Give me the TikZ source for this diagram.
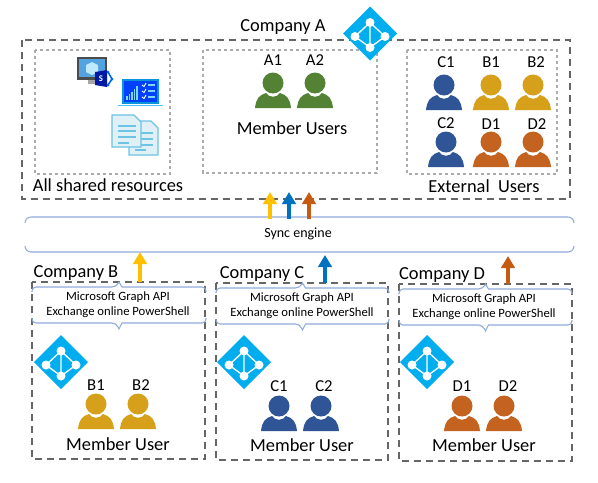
\documentclass[tikz,border=0pt]{standalone}
\usepackage[]{fontspec}
\setmainfont{Carlito}
\usepackage[]{xcolor}
\usetikzlibrary{arrows.meta}
\definecolor{usergreen}{HTML}{548235}
\definecolor{userblue}{HTML}{2F5597}
\definecolor{usergold}{HTML}{D6A01B}
\definecolor{userrust}{HTML}{C46220}
\definecolor{azure}{HTML}{00AEEF}
\definecolor{syncline}{HTML}{8FAADC}
\definecolor{dashgrey}{HTML}{666666}
\definecolor{softgrey}{HTML}{ABABAB}
\definecolor{iconpale}{HTML}{DFF0F7}
\definecolor{iconedge}{HTML}{6CC3E4}
\definecolor{arrowgold}{HTML}{FFC000}
\definecolor{arrowblue}{HTML}{0070C0}
\definecolor{arrowrust}{HTML}{C55A11}
\tikzset{outerbox/.style = {draw=dashgrey, line width = 0.9pt, dash pattern = on 5.5pt off 3.5pt}}
\tikzset{innerbox/.style = {draw=softgrey, line width = 0.8pt, dash pattern = on 2.5pt off 2pt}}
\tikzset{bigtext/.style = {inner sep = 0, font = \fontsize{13.8}{16}\selectfont}}
\tikzset{usertext/.style = {inner sep = 0, font = \fontsize{12.5}{14}\selectfont}}
\tikzset{smalltext/.style = {inner sep = 0, align = center, font = \fontsize{9.5}{11}\selectfont}}
\tikzset{synctext/.style = {inner sep = 0, font = \fontsize{10.5}{12}\selectfont}}
\tikzset{syncarrow/.style = {line width = 3.6pt, -{Triangle[width = 10pt, length = 9pt]}}}
\tikzset{syncedge/.style = {syncline, line width = 0.8pt}}
\tikzset{docpage/.style = {fill=iconpale, draw=iconedge, line width = 0.8pt}}
\tikzset{docline/.style = {draw=iconedge, line width = 0.8pt}}
\tikzset{pics/usericon/.style = {code = {
            \fill [#1] (0,-25) circle [radius=10.5];
            \fill [#1] (-18,0) .. controls (-17,-9) and (-14,-13) .. (-7,-15) .. controls (-4,-10) and (4,-10) .. (7,-15) .. controls (14,-13) and (17,-9) .. (18,0) -- cycle;
        }}}
\tikzset{pics/tenanticon/.style = {code = {
            \fill [azure] (0,-27) -- (27,0) -- (0,27) -- (-27,0) -- cycle;
            \draw [white, line width = 1pt] (0,-11) -- (-15,3) -- (0,14) -- (15,3) -- cycle (0,-11) -- (0,14);
            \fill [white] (0,-11) circle [radius=4.5] (-15,3) circle [radius=4.5] (15,3) circle [radius=4.5] (0,14) circle [radius=4.5];
        }}}
\newcommand{\bracepair}[4]{% left, top, right, bottom
    \draw [syncedge, rounded corners = 3pt] (#1,#2+5) -- (#1,#2) -- ({(#1+#3)/2-3},#2) [sharp corners] -- ({(#1+#3)/2},#2-5) -- ({(#1+#3)/2+3},#2) [rounded corners = 3pt] -- (#3,#2) -- (#3,#2+5);
    \draw [syncedge, rounded corners = 3pt] (#1,#4-5) -- (#1,#4) -- ({(#1+#3)/2-3},#4) [sharp corners] -- ({(#1+#3)/2},#4+6) -- ({(#1+#3)/2+3},#4) [rounded corners = 3pt] -- (#3,#4) -- (#3,#4-5);
}

\begin{document}
\begin{tikzpicture}[x=0.75pt, y=-0.75pt]
    \useasboundingbox [fill=white] (0,0) rectangle (598,482);
    % company A
    \draw [outerbox] (22,40) rectangle (570,199);
    \draw [innerbox] (35,50) rectangle (170,174);
    \draw [innerbox] (203,50) rectangle (377,173);
    \draw [innerbox] (407,50) rectangle (557,174);
    \node [bigtext] (companya) at (283,27) {Company A};
    \pic at (370,33.5) {tenanticon};
    \node [bigtext] (shared) at (108,185) {All shared resources};
    \node [bigtext] (memberusers) at (292,128) {Member Users};
    \node [bigtext] (externalusers) at (484,186) {External\ \ Users};
    % monitor
    \fill [black!70] (77,57) rectangle (107,80);
    \fill [cyan!70!blue!70] (79,59) rectangle (105,77);
    \fill [black!35] (88,80) rectangle (96,84);
    \fill [white!75!cyan] (92,62) -- (98,65) -- (98,72) -- (92,75) -- (86,72) -- (86,65) -- cycle;
    \draw [blue!60!cyan, line width = 1.2pt] (108,72) -- (112,79) -- (108,85);
    \fill [blue!60!cyan] (108,72) circle [radius=1.5] (112,79) circle [radius=1.5] (108,85) circle [radius=1.5];
    \fill [blue!60!black!90!cyan] (95,72) -- (107,70) -- (107,87) -- (95,85) -- cycle;
    \node [inner sep = 0, white, font = \fontsize{6.5}{7}\bfseries\selectfont] (spletter) at (101,79) {S};
    % laptop
    \fill [cyan!80!blue] (122,79) rectangle (159,104);
    \fill [blue!75!cyan] (124,81) rectangle (157,102);
    \draw [cyan!70, line width = 1.2pt] (118,105.5) -- (163,105.5);
    \foreach \i/\h in {0/4,1/6,2/8,3/11,4/14} {
        \fill [cyan!50] ({126+\i*2.6},100) rectangle ({127.6+\i*2.6},100-\h);
    }
    \foreach \yy in {85,91,97} {
        \draw [white, line width = 0.7pt] (142,\yy) -- (144,\yy+1.5) -- (146,\yy-2);
        \draw [cyan!50, line width = 0.8pt] (148,\yy) -- (155,\yy);
    }
    % documents
    \draw [docpage] (129,121) -- (151,121) -- (158,128) -- (158,155) -- (129,155) -- cycle;
    \foreach \yy in {133,139,145} {\draw [docline] (135,\yy) -- (153,\yy);}
    \draw [docline] (135,150) -- (146,150);
    \draw [docpage] (112,115) -- (134,115) -- (141,122) -- (141,147) -- (112,147) -- cycle;
    \foreach \yy in {126,131,137} {\draw [docline] (118,\yy) -- (136,\yy);}
    \draw [docline] (118,143) -- (129,143);
    % users in company A
    \pic at (273,108) {usericon=usergreen};
    \pic at (315,108) {usericon=usergreen};
    \node [usertext] (labela1) at (273,60) {A1};
    \node [usertext] (labela2) at (315,60) {A2};
    \pic at (444,110) {usericon=userblue};
    \pic at (491,110) {usericon=usergold};
    \pic at (533,110) {usericon=usergold};
    \pic at (446,167) {usericon=userblue};
    \pic at (491,167) {usericon=userrust};
    \pic at (533,167) {usericon=userrust};
    \node [usertext] (labelc1) at (446,62) {C1};
    \node [usertext] (labelb1) at (491,62) {B1};
    \node [usertext] (labelb2) at (536,62) {B2};
    \node [usertext] (labelc2) at (446,123) {C2};
    \node [usertext] (labeld1) at (491,124) {D1};
    \node [usertext] (labeld2) at (537,124) {D2};
    % sync engine
    \draw [syncedge, rounded corners = 4.5pt] (25,223) -- (25,217) -- (574,217) -- (574,223);
    \draw [syncedge, rounded corners = 4.5pt] (25,246) -- (25,252) -- (574,252) -- (574,246);
    \node [synctext] (sync) at (298,234) {Sync engine};
    % company B
    \draw [outerbox] (32,282) rectangle (205,459);
    \bracepair{32}{287}{206}{323}
    \node [bigtext] (companyb) at (76,273) {Company B};
    \node [smalltext] (apib) at (118,305) {Microsoft Graph API\\Exchange online PowerShell};
    \pic at (61,362) {tenanticon};
    \pic at (96,429) {usericon=usergold};
    \pic at (138,429) {usericon=usergold};
    \node [usertext] (labelb3) at (96,385) {B1};
    \node [usertext] (labelb4) at (141,385) {B2};
    \node [bigtext] (memberb) at (118,444) {Member User};
    % company C
    \draw [outerbox] (216,283) rectangle (388,460);
    \bracepair{216}{288}{389}{324}
    \node [bigtext] (companyc) at (262,274) {Company C};
    \node [smalltext] (apic) at (302,306) {Microsoft Graph API\\Exchange online PowerShell};
    \pic at (244,362) {tenanticon};
    \pic at (279,431) {usericon=userblue};
    \pic at (321,431) {usericon=userblue};
    \node [usertext] (labelc3) at (279,386) {C1};
    \node [usertext] (labelc4) at (324,386) {C2};
    \node [bigtext] (memberc) at (302,445) {Member User};
    % company D
    \draw [outerbox] (399,284) rectangle (572,461);
    \bracepair{399}{289}{572}{325}
    \node [bigtext] (companyd) at (442,275) {Company D};
    \node [smalltext] (apid) at (484,307) {Microsoft Graph API\\Exchange online PowerShell};
    \pic at (427,362) {tenanticon};
    \pic at (462,431) {usericon=userrust};
    \pic at (504,431) {usericon=userrust};
    \node [usertext] (labeld3) at (462,386) {D1};
    \node [usertext] (labeld4) at (508,386) {D2};
    \node [bigtext] (memberd) at (484,445) {Member User};
    % arrows
    \coordinate (topgoldstart) at (270,219);
    \coordinate (topgoldend) at (270,192);
    \coordinate (topbluestart) at (289,219);
    \coordinate (topblueend) at (289,192);
    \coordinate (toprustart) at (309,219);
    \coordinate (toprustend) at (309,192);
    \coordinate (bstart) at (140,282);
    \coordinate (bend) at (140,252);
    \coordinate (cstart) at (325,283);
    \coordinate (cend) at (325,255);
    \coordinate (dstart) at (508,284);
    \coordinate (dend) at (508,256);
    \draw [syncarrow, arrowgold] (topgoldstart) -- (topgoldend);
    \draw [syncarrow, arrowblue] (topbluestart) -- (topblueend);
    \draw [syncarrow, arrowrust] (toprustart) -- (toprustend);
    \draw [syncarrow, arrowgold] (bstart) -- (bend);
    \draw [syncarrow, arrowblue] (cstart) -- (cend);
    \draw [syncarrow, arrowrust] (dstart) -- (dend);
\end{tikzpicture}
\end{document}
